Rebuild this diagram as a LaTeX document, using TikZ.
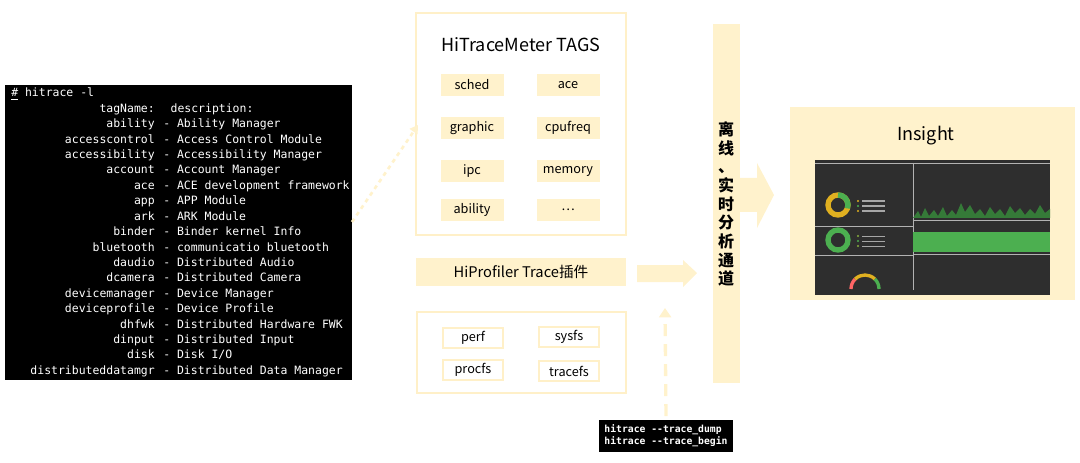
\documentclass[tikz,border=0pt]{standalone}
\usepackage{fontspec}
\setmainfont{Noto Sans CJK SC}
\setmonofont{DejaVu Sans Mono}
\usetikzlibrary{arrows.meta}
\definecolor{pale}{HTML}{FFF2CC}
\definecolor{paleline}{HTML}{FFF0C8}
\definecolor{scr}{HTML}{2E2E2E}
\definecolor{grn}{HTML}{4CAF50}
\definecolor{ylw}{HTML}{E0B020}
\tikzset{
  tagbox/.style={fill=pale, minimum width=47.25pt, minimum height=17pt, inner sep=0pt, font=\fontsize{9.5}{11}\selectfont},
  srcbox/.style={draw=paleline, line width=0.8pt, minimum width=45pt, minimum height=15pt, inner sep=0pt, font=\fontsize{9.5}{11}\selectfont},
  panel/.style={draw=paleline, line width=0.8pt},
  termtext/.style={text=white, inner sep=0pt, font=\ttfamily\fontsize{8.6}{10}\selectfont},
}
\begin{document}
\begin{tikzpicture}[x=0.75pt,y=-0.75pt]
\useasboundingbox (0,0) rectangle (1080,463);
% terminal
\fill[black] (5,85) rectangle (352,380);
\node[termtext, anchor=base west] (cmd) at (11,97) {\underline{\#} hitrace -l};
\foreach \n/\d [count=\i] in {tagName:/description:, ability/- Ability Manager,
  accesscontrol/- Access Control Module, accessibility/- Accessibility Manager,
  account/- Account Manager, ace/- ACE development framework, app/- APP Module,
  ark/- ARK Module, binder/- Binder kernel Info, bluetooth/- communicatio bluetooth,
  daudio/- Distributed Audio, dcamera/- Distributed Camera,
  devicemanager/- Device Manager, deviceprofile/- Device Profile,
  dhfwk/- Distributed Hardware FWK, dinput/- Distributed Input, disk/{- Disk I/O},
  distributeddatamgr/- Distributed Data Manager}
{
  \node[termtext, anchor=base east] (tag\i) at (155,97+15.4*\i) {\n};
  \node[termtext, anchor=base west] (desc\i) at (163,97+15.4*\i) {\ifnum\i=1 \hspace{5.5pt}\fi\d};
}
\coordinate (termout) at (352,222);
% tags panel
\draw[panel] (416,13) rectangle (626,235);
\node[font=\fontsize{13.5}{15}\selectfont] (title) at (521,45) {HiTraceMeter TAGS};
\node[tagbox] (sched) at (472,85) {sched};
\node[tagbox] (ace) at (568,85) {ace};
\node[tagbox] (graphic) at (472,128) {graphic};
\node[tagbox] (cpufreq) at (568,128) {cpufreq};
\node[tagbox] (ipc) at (472,171) {ipc};
\node[tagbox] (memory) at (568,171) {memory};
\node[tagbox] (ability) at (472,210) {ability};
\node[tagbox] (more) at (568,210) {…};
\coordinate (tagsin) at (418,125);
\draw[pale, line width=2pt, dashed, -{Triangle[length=6pt,width=7pt]}] (termout) -- (tagsin);
% plugin
\node[fill=pale, minimum width=157.5pt, minimum height=21pt, inner sep=0pt, font=\fontsize{11}{13}\selectfont] (plugin) at (521,272) {HiProfiler Trace插件};
\fill[pale] (637,265) -- (683,265) -- (683,260) -- (697,273) -- (683,287) -- (683,282) -- (637,282) -- cycle;
% sources panel
\draw[panel] (417,312) rectangle (626,393);
\node[srcbox] (perf) at (473,338) {perf};
\node[srcbox] (sysfs) at (569,337) {sysfs};
\node[srcbox] (procfs) at (473,370) {procfs};
\node[srcbox] (tracefs) at (569,371) {tracefs};
% command
\node[fill=black, text=white, font=\ttfamily\bfseries\fontsize{7.3}{9}\selectfont, align=left, minimum width=100pt, minimum height=23pt, inner xsep=3pt] (dump) at (666,436) {hitrace --trace\_dump\\hitrace --trace\_begin};
\draw[pale, line width=2.5pt, dash pattern=on 9pt off 6pt, -{Triangle[length=7pt,width=9pt]}] ([yshift=3pt]dump.north) -- (665,308);
% channel
\node[fill=pale, minimum width=20.25pt, minimum height=269pt, inner sep=0pt] (chan) at (726.5,203.5) {};
\node[align=center, font=\fontsize{12}{14}\selectfont\bfseries, inner sep=0pt] (chantext) at (726,204) {离\\线\\、\\实\\时\\分\\析\\通\\道};
\fill[pale] (740,178) -- (757,178) -- (757,163) -- (774,195) -- (757,228) -- (757,212) -- (740,212) -- cycle;
% insight
\fill[pale] (790,107) rectangle (1075,300);
\node[font=\fontsize{13.5}{15}\selectfont] (ins) at (926,136) {Insight};
\fill[scr] (815,160) rectangle (1050,295);
\draw[gray!60, line width=0.3pt] (815,163) -- (1050,163) (913,163) -- (913,290) (815,226) -- (913,226) (815,255) -- (913,255);
\draw[ylw, line width=4pt] (838,205) circle (10);
\draw[grn, line width=4pt] (838,205) ++(-90:10) arc (-90:20:10);
\draw[grn, line width=4pt] (838,240) circle (10);
\foreach \k [count=\j] in {ylw,grn,ylw}
{
  \fill[\k] (858,196+5*\j) circle (1.2);
  \fill[grn!60!\k] (858,231+5*\j) circle (1.2);
  \fill[gray!70] (862,195.5+5*\j) rectangle (885,196.8+5*\j);
  \fill[gray!70] (862,230.5+5*\j) rectangle (885,231.8+5*\j);
}
\fill[grn!70!black] (913,218) -- (918,211) -- (921,217) -- (925,208) -- (929,216) -- (934,210) -- (938,216) -- (943,207) -- (947,216) -- (952,210) -- (956,215) -- (961,203) -- (965,212) -- (970,205) -- (975,214) -- (980,209) -- (985,216) -- (990,207) -- (995,214) -- (1000,209) -- (1005,216) -- (1010,206) -- (1015,213) -- (1020,208) -- (1025,215) -- (1030,209) -- (1035,214) -- (1040,205) -- (1045,213) -- (1050,209) -- (1050,218) -- cycle;
\fill[grn] (913,232) rectangle (1050,252);
\draw[gray!60, line width=0.3pt] (913,220) -- (1050,220) (913,254) -- (1050,254);
\draw[red!60, line width=2.5pt] (851,289) arc (180:225:14);
\draw[ylw, line width=2.5pt] (865,289) ++(225:14) arc (225:315:14);
\draw[grn, line width=2.5pt] (865,289) ++(315:14) arc (315:360:14);
\end{tikzpicture}
\end{document}
